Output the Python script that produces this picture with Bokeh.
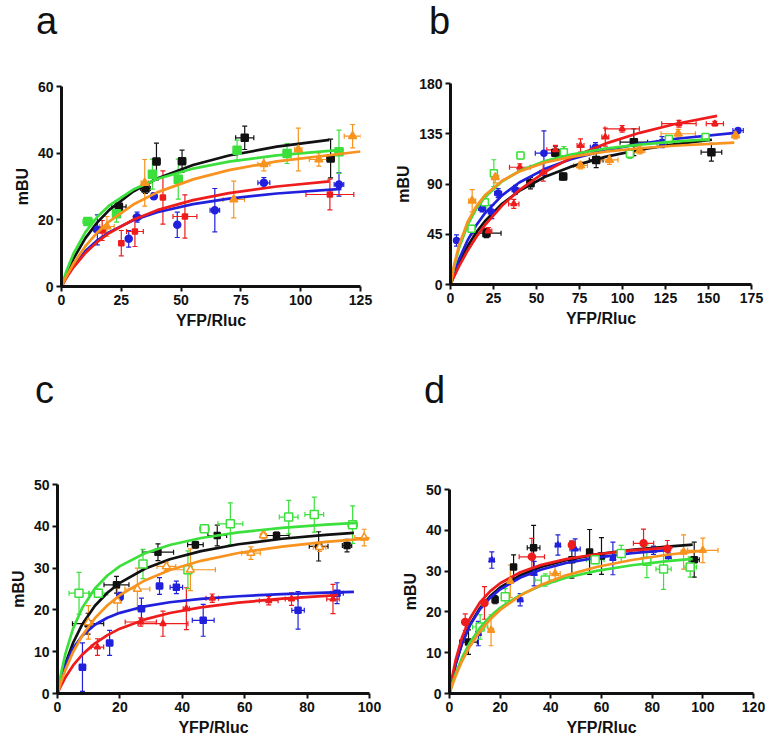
from bokeh.plotting import figure
from bokeh.layouts import column, row
from bokeh.models import Range1d, FixedTicker, Whisker, TeeHead, ColumnDataSource, Div
from bokeh.embed import file_html
from bokeh.resources import INLINE

# ---------------- colours ----------------
COLORS = {"black": "#111111", "green": "#3ce03c", "orange": "#f7931e",
          "red": "#ee1c1c", "blue": "#2020dd"}
ORDER = ["black", "blue", "red", "green", "orange"]

# ---------------- axis ticks ----------------
A_XTICKS = [0, 25, 50, 75, 100, 125]
A_YTICKS = [0, 20, 40, 60]
B_XTICKS = [0, 25, 50, 75, 100, 125, 150, 175]
B_YTICKS = [0, 45, 90, 135, 180]
C_XTICKS = [0, 20, 40, 60, 80, 100]
C_YTICKS = [0, 10, 20, 30, 40, 50]
D_XTICKS = [0, 20, 40, 60, 80, 100, 120]
D_YTICKS = [0, 10, 20, 30, 40, 50]
X_LABEL = "YFP/Rluc"
Y_LABEL = "mBU"
PANEL_LETTERS = ["a", "b", "c", "d"]

# ---------------- panel a ----------------
A_BLACK = dict(x=[24.0, 35.1, 39.7, 50.4, 76.6, 112.5], y=[23.9, 29.4, 37.5, 37.6, 44.6, 38.4],
               xerr=[3, 2, 1.5, 1.5, 3.8, 1.5], yerr=[1.2, 1.5, 5.5, 3.3, 3.5, 5.8])
A_GREEN = dict(x=[11, 23, 38, 48.8, 73.4, 94.3, 116], y=[19.5, 21.8, 33.7, 32.2, 40.9, 39.9, 40.4],
               xerr=[2, 1.5, 1, 1, 1.5, 1.5, 1.5], yerr=[0.8, 2.5, 4.5, 6, 3, 3, 6.5])
A_ORANGE = dict(x=[19, 34.8, 72, 84.6, 99, 107.6, 121.7], y=[18, 31.1, 26.1, 36.7, 41.1, 38.1, 45.1],
                xerr=[3, 1.5, 4.5, 2.5, 1.5, 4, 3.5], yerr=[3, 7, 5.5, 2, 6.4, 2, 3.5])
A_RED = dict(x=[17, 25, 30.7, 42.4, 51.6, 112.2], y=[16.8, 13, 16.5, 26.7, 21, 27.6],
             xerr=[1.5, 1, 3.5, 1, 5, 10], yerr=[3, 3.8, 4.5, 8, 6.5, 4.6])
A_BLUE = dict(x=[15, 28.1, 31.6, 38.6, 48.4, 64.1, 84.6, 116], y=[17, 14.3, 20.8, 27.1, 18.5, 22.9, 31.1, 30.6],
              xerr=[1.5, 1, 1.5, 1, 1, 2, 2.5, 2], yerr=[4.5, 2.5, 1.5, 1, 3.8, 6.5, 1.6, 3.5])
A_FIT_BLACK = dict(x=[0, 2, 5, 10, 15, 20, 30, 40, 55, 70, 90, 112],
                   y=[0, 3.68, 8.37, 14.52, 19.24, 22.97, 28.49, 32.39, 36.47, 39.29, 41.94, 43.98])
A_FIT_GREEN = dict(x=[0, 2, 5, 10, 15, 20, 30, 40, 55, 70, 90, 118],
                   y=[0, 4.49, 9.84, 16.31, 20.90, 24.33, 29.09, 32.24, 35.38, 37.47, 39.36, 41.08])
A_FIT_ORANGE = dict(x=[0, 2, 5, 10, 15, 20, 30, 40, 55, 70, 90, 125],
                    y=[0, 2.99, 6.86, 12.09, 16.21, 19.54, 24.59, 28.24, 32.14, 34.90, 37.52, 40.50])
A_FIT_RED = dict(x=[0, 2, 5, 10, 15, 20, 30, 40, 55, 70, 90, 112],
                 y=[0, 2.52, 5.75, 10.05, 13.39, 16.06, 20.05, 22.90, 25.91, 28.01, 30.00, 31.54])
A_FIT_BLUE = dict(x=[0, 2, 5, 10, 15, 20, 30, 40, 55, 70, 90, 117],
                  y=[0, 2.81, 6.27, 10.64, 13.85, 16.32, 19.85, 22.26, 24.71, 26.37, 27.90, 29.27])

# ---------------- panel b ----------------
B_BLACK = dict(x=[20.9, 46.5, 61, 65.5, 84.7, 106.6, 151.7], y=[46, 90.7, 118, 96.7, 111.6, 127.5, 118.5],
               xerr=[8.5, 2, 2, 2, 4, 8, 6], yerr=[4, 5, 6, 3, 7, 12, 8])
B_RED = dict(x=[22, 36.8, 40.3, 53.9, 61, 75.6, 90, 99.8, 132.8, 153.7],
             y=[48, 72.2, 105, 100.6, 120.6, 124.5, 132, 139.4, 144, 144],
             xerr=[2, 3, 6, 2, 5, 2, 2, 10, 10, 5], yerr=[3, 4, 3, 8, 4, 6, 8, 3, 3, 2])
B_BLUE = dict(x=[3.5, 18.4, 24, 27.7, 37.8, 54.3, 84.3, 123, 167.2],
              y=[39.4, 68, 65, 81.8, 84.8, 117.6, 123, 127.5, 137.9],
              xerr=[1, 2, 2, 2, 2, 5, 3, 3, 3], yerr=[5, 3, 6, 4, 4, 20, 4, 5, 2])
B_GREEN = dict(x=[12.2, 20, 25.2, 40.7, 65.9, 104.3, 127, 148.3], y=[50, 73.7, 99.7, 115.5, 118.5, 117, 130.4, 132],
               xerr=[1, 2, 1, 2, 2, 2, 2, 2], yerr=[3, 5, 12, 3, 5, 4, 3, 3])
B_ORANGE = dict(x=[12.6, 26, 75.6, 92.4, 110, 132.4, 165.7], y=[75, 96, 106.6, 111.6, 120, 135, 133.4],
                xerr=[2, 2, 4, 5, 3, 10, 2], yerr=[10, 5, 3, 4, 3, 4, 3])
B_FIT_BLACK = dict(x=[0, 2, 5, 10, 15, 20, 30, 40, 55, 70, 90, 110, 130, 152],
                   y=[0, 8.30, 19.26, 34.40, 46.62, 56.69, 72.31, 83.85, 96.46, 105.52, 114.27, 120.64, 125.48, 129.62])
B_FIT_RED = dict(x=[0, 2, 5, 10, 15, 20, 30, 40, 55, 70, 90, 110, 130, 155],
                 y=[0, 6.90, 16.43, 30.45, 42.56, 53.12, 70.65, 84.60, 100.91, 113.41, 126.13, 135.83, 143.47, 151.0])
B_FIT_BLUE = dict(x=[0, 2, 5, 10, 15, 20, 30, 40, 55, 70, 90, 110, 130, 167],
                  y=[0, 9.93, 22.71, 39.80, 53.13, 63.81, 79.87, 91.36, 103.56, 112.11, 120.20, 125.98, 130.32, 136.04])
B_FIT_GREEN = dict(x=[0, 2, 5, 10, 15, 20, 30, 40, 55, 70, 90, 110, 130, 150],
                   y=[0, 15.23, 32.89, 53.59, 67.83, 78.22, 92.36, 101.54, 110.53, 116.43, 121.71, 125.33, 127.97, 129.97])
B_FIT_ORANGE = dict(x=[0, 2, 5, 10, 15, 20, 30, 40, 55, 70, 90, 110, 130, 165],
                    y=[0, 16.65, 35.26, 56.18, 70.03, 79.88, 92.96, 101.25, 109.21, 114.35, 118.91, 122.01, 124.25, 126.97])

# ---------------- panel c ----------------
C_GREEN = dict(x=[6.9, 13.1, 27.4, 41.8, 47.1, 55.4, 74.1, 82.3, 94.6], y=[24, 24, 31, 29.6, 39.4, 40.6, 42.2, 42.8, 40.4],
               xerr=[3.2, 3, 1, 1, 1.5, 4, 3, 3, 1.5], yerr=[5, 1, 3.5, 4.5, 0.8, 5, 4, 4.2, 4.5])
C_BLACK = dict(x=[9.8, 18.9, 32.2, 44.2, 51.2, 70.2, 83.7, 92.8], y=[16.7, 26, 33.8, 35.6, 37.8, 37.8, 35.2, 35.4],
               xerr=[5, 4, 5, 2.5, 3, 4, 3, 1.5], yerr=[2.5, 2, 2, 0.8, 2.5, 0.8, 3.5, 1.5])
C_ORANGE = dict(x=[9.9, 19.2, 25.6, 34.9, 42.6, 62, 66, 84, 98.3], y=[17, 22.2, 25, 30.4, 29.6, 33.6, 37.8, 35, 37.3],
                xerr=[1.5, 1, 4, 3, 8, 3, 1, 2, 3], yerr=[4, 3, 5, 1, 5, 1.5, 0.8, 1, 2])
C_BLUE = dict(x=[8, 16.7, 20, 26.9, 32.7, 38.1, 46.7, 77.1, 89.6], y=[6.3, 12.1, 23.2, 20.3, 25.7, 25.4, 17.5, 19.9, 24],
              xerr=[1, 1, 1, 1, 1, 2, 3.5, 2, 2], yerr=[5.8, 3, 1, 2.5, 2, 1.5, 3.8, 4.5, 2.5])
C_RED = dict(x=[12.8, 26.7, 33.8, 41.3, 49.6, 67.7, 75, 88.3], y=[11.1, 17.1, 16.7, 20.3, 22.8, 22.2, 22.6, 22.6],
             xerr=[2, 5, 8, 1, 2, 3, 2, 2], yerr=[2, 1, 3, 5, 1, 1, 1.5, 3.5])
C_FIT_GREEN = dict(x=[0, 1, 2.5, 5, 8, 12, 16, 20, 28, 36, 46, 58, 72, 86, 96],
                   y=[0, 4.31, 9.41, 15.56, 20.60, 25.12, 28.22, 30.48, 33.54, 35.52, 37.20, 38.55, 39.63, 40.39, 40.80])
C_FIT_BLACK = dict(x=[0, 1, 2.5, 5, 8, 12, 16, 20, 28, 36, 46, 58, 72, 86, 95],
                   y=[0, 3.12, 7.05, 12.14, 16.65, 20.98, 24.11, 26.48, 29.84, 32.11, 34.07, 35.70, 37.02, 37.96, 38.44])
C_FIT_ORANGE = dict(x=[0, 1, 2.5, 5, 8, 12, 16, 20, 28, 36, 46, 58, 72, 86, 100],
                    y=[0, 2.42, 5.59, 9.91, 13.94, 18.02, 21.11, 23.52, 27.06, 29.54, 31.74, 33.61, 35.15, 36.27, 37.13])
C_FIT_BLUE = dict(x=[0, 1, 2.5, 5, 8, 12, 16, 20, 28, 36, 46, 58, 72, 86, 95],
                  y=[0, 3.25, 6.84, 10.84, 13.88, 16.45, 18.13, 19.30, 20.86, 21.83, 22.64, 23.27, 23.78, 24.12, 24.30])
C_FIT_RED = dict(x=[0, 1, 2.5, 5, 8, 12, 16, 20, 28, 36, 46, 58, 72, 86, 90],
                 y=[0, 1.66, 3.81, 6.70, 9.36, 12.00, 13.97, 15.51, 17.72, 19.26, 20.61, 21.75, 22.68, 23.36, 23.52])

# ---------------- panel d ----------------
D_BLACK = dict(x=[7.5, 18, 25.3, 33.2, 48.3, 55.3, 60, 96.6], y=[12.6, 23, 31, 35.7, 32.8, 34.7, 33.7, 32.8],
               xerr=[3.5, 1, 1, 2.5, 1, 1, 1, 2], yerr=[3, 1, 3, 5.5, 4.5, 5.5, 4.5, 4.3])
D_RED = dict(x=[6.2, 13.8, 32.5, 48.3, 76.6, 86], y=[17.5, 22.2, 33.5, 36.4, 36.8, 35.5],
             xerr=[1, 1, 5, 1, 4, 1], yerr=[2, 4, 4.5, 1, 3.5, 2])
D_BLUE = dict(x=[11.4, 16.7, 27.9, 33.4, 42.8, 49.6, 64.5, 80.5, 86.4], y=[14.7, 32.7, 23, 29.4, 36.4, 35.4, 33.1, 35.1, 33.5],
              xerr=[1, 1, 1, 1, 1, 2, 1, 1, 1], yerr=[3, 2, 1.5, 3, 2.5, 2.5, 4, 1, 1])
D_GREEN = dict(x=[12.1, 22, 37.8, 57.5, 67.8, 77.9, 84.5, 95], y=[16.3, 23.7, 27.8, 32.8, 34.3, 32.4, 30.5, 31],
               xerr=[3, 1, 4, 3.5, 1, 1, 3, 2.5], yerr=[3, 2, 1.5, 1, 2, 4, 5, 2.5])
D_ORANGE = dict(x=[16.4, 24, 41.7, 92.4, 100], y=[15.5, 27.5, 29.4, 34.7, 35.1],
                xerr=[1, 1, 2, 1, 6], yerr=[3.8, 4, 2, 4.2, 3])
D_FIT_BLACK = dict(x=[0, 1, 2.5, 5, 8, 12, 16, 20, 28, 36, 46, 58, 72, 86, 96],
                   y=[0, 3.29, 7.34, 12.44, 16.82, 20.92, 23.82, 25.99, 28.99, 30.99, 32.70, 34.10, 35.22, 36.02, 36.47])
D_FIT_RED = dict(x=[0, 1, 2.5, 5, 8, 12, 16, 20, 28, 36, 46, 58, 72, 88],
                 y=[0, 3.84, 8.39, 13.85, 18.31, 22.31, 25.04, 27.03, 29.73, 31.47, 32.94, 34.13, 35.07, 35.81])
D_FIT_BLUE = dict(x=[0, 1, 2.5, 5, 8, 12, 16, 20, 28, 36, 46, 58, 72, 87],
                  y=[0, 3.28, 7.30, 12.33, 16.63, 20.62, 23.44, 25.53, 28.43, 30.34, 31.98, 33.32, 34.40, 35.21])
D_FIT_GREEN = dict(x=[0, 1, 2.5, 5, 8, 12, 16, 20, 28, 36, 46, 58, 72, 86, 96],
                   y=[0, 2.16, 4.98, 8.83, 12.43, 16.08, 18.84, 21.00, 24.17, 26.39, 28.37, 30.04, 31.43, 32.44, 33.01])
D_FIT_ORANGE = dict(x=[0, 1, 2.5, 5, 8, 12, 16, 20, 28, 36, 46, 58, 72, 86, 100],
                    y=[0, 1.89, 4.43, 8.02, 11.53, 15.22, 18.13, 20.48, 24.04, 26.61, 28.96, 31.01, 32.73, 34.00, 34.98])

# marker: (shape, size, open?)
A_MARKERS = {"black": ("square", 7, False), "green": ("square", 8, False), "orange": ("triangle", 8, False),
             "red": ("square", 5, False), "blue": ("circle", 7, False)}
B_MARKERS = {"black": ("square", 7, False), "green": ("square", 7, True), "orange": ("triangle", 8, False),
             "red": ("triangle", 6, False), "blue": ("circle", 6, False)}
C_MARKERS = {"black": ("square", 6, False), "green": ("square", 8, True), "orange": ("triangle", 8, True),
             "red": ("triangle", 6, False), "blue": ("square", 6, False)}
D_MARKERS = {"black": ("square", 6, False), "green": ("square", 8, True), "orange": ("triangle", 7, False),
             "red": ("circle", 7, False), "blue": ("triangle", 6, False)}

TICK_FONT = "Liberation Sans"


def make_panel(xr, yr, xticks, yticks, series, fits, markers, geom):
    left, fw, right, top, fh, bottom = geom
    p = figure(output_backend="svg", toolbar_location=None,
               frame_width=fw, frame_height=fh,
               min_border_left=left, min_border_right=right,
               min_border_top=top, min_border_bottom=bottom,
               x_range=Range1d(*xr), y_range=Range1d(*yr))
    p.outline_line_color = None
    p.grid.visible = False
    p.background_fill_color = "white"
    p.border_fill_color = "white"
    p.xaxis.ticker = FixedTicker(ticks=xticks)
    p.yaxis.ticker = FixedTicker(ticks=yticks)
    for ax in (p.xaxis, p.yaxis):
        ax.axis_line_width = 3
        ax.axis_line_color = "#111111"
        ax.major_tick_line_width = 2
        ax.major_tick_line_color = "#111111"
        ax.major_tick_in = 0
        ax.major_tick_out = 5
        ax.minor_tick_line_color = None
        ax.major_label_text_font = TICK_FONT
        ax.major_label_text_font_style = "bold"
        ax.major_label_text_font_size = "14px"
        ax.major_label_text_color = "#111111"
        ax.major_label_standoff = 3
        ax.axis_label_text_font = TICK_FONT
        ax.axis_label_text_font_style = "bold"
        ax.axis_label_text_font_size = "16px"
        ax.axis_label_text_color = "#111111"
        ax.axis_label_standoff = 4
    p.xaxis.axis_label = X_LABEL
    p.yaxis.axis_label = Y_LABEL

    for name in ORDER:
        s = series[name]
        f = fits[name]
        col = COLORS[name]
        n = len(s["x"])
        ysrc = ColumnDataSource(dict(
            x=s["x"],
            lo=[s["y"][i] - s["yerr"][i] for i in range(n)],
            hi=[s["y"][i] + s["yerr"][i] for i in range(n)]))
        xsrc = ColumnDataSource(dict(
            y=s["y"],
            lo=[s["x"][i] - s["xerr"][i] for i in range(n)],
            hi=[s["x"][i] + s["xerr"][i] for i in range(n)]))
        for src, base, dim in ((ysrc, "x", "height"), (xsrc, "y", "width")):
            p.add_layout(Whisker(source=src, base=base, lower="lo", upper="hi", dimension=dim,
                                 line_color=col, line_width=1.2,
                                 lower_head=TeeHead(size=5, line_color=col, line_width=1.2),
                                 upper_head=TeeHead(size=5, line_color=col, line_width=1.2)))
        shape, size, hollow = markers[name]
        p.scatter(s["x"], s["y"], marker=shape, size=size, line_color=col, line_width=1.5,
                  fill_color="white" if hollow else col)
        p.line(f["x"], f["y"], line_color=col, line_width=2.7)
    return p


def letter_div(letter, width, pad_left):
    return Div(text=letter, width=width, height=44, margin=0,
               styles={"font-family": "Liberation Sans", "font-size": "38px",
                       "line-height": "normal", "padding-left": f"{pad_left}px",
                       "color": "#111111"})


# geom = (border_left, frame_w, border_right, border_top, frame_h, border_bottom)
pa = make_panel((0, 125), (0, 60), A_XTICKS, A_YTICKS,
                dict(black=A_BLACK, green=A_GREEN, orange=A_ORANGE, red=A_RED, blue=A_BLUE),
                dict(black=A_FIT_BLACK, green=A_FIT_GREEN, orange=A_FIT_ORANGE, red=A_FIT_RED, blue=A_FIT_BLUE),
                A_MARKERS, (61, 299, 32, 42, 200, 83))
pb = make_panel((0, 175), (0, 180), B_XTICKS, B_YTICKS,
                dict(black=B_BLACK, green=B_GREEN, orange=B_ORANGE, red=B_RED, blue=B_BLUE),
                dict(black=B_FIT_BLACK, green=B_FIT_GREEN, orange=B_FIT_ORANGE, red=B_FIT_RED, blue=B_FIT_BLUE),
                B_MARKERS, (56, 301, 16, 39, 201, 85))
pc = make_panel((0, 100), (0, 50), C_XTICKS, C_YTICKS,
                dict(black=C_BLACK, green=C_GREEN, orange=C_ORANGE, red=C_RED, blue=C_BLUE),
                dict(black=C_FIT_BLACK, green=C_FIT_GREEN, orange=C_FIT_ORANGE, red=C_FIT_RED, blue=C_FIT_BLUE),
                C_MARKERS, (57, 312, 23, 71, 209, 50))
pd_ = make_panel((0, 120), (0, 50), D_XTICKS, D_YTICKS,
                 dict(black=D_BLACK, green=D_GREEN, orange=D_ORANGE, red=D_RED, blue=D_BLUE),
                 dict(black=D_FIT_BLACK, green=D_FIT_GREEN, orange=D_FIT_ORANGE, red=D_FIT_RED, blue=D_FIT_BLUE),
                 D_MARKERS, (57, 304, 12, 76, 204, 50))

layout = column(
    row(column(letter_div(PANEL_LETTERS[0], 392, 36), pa, spacing=0),
        column(letter_div(PANEL_LETTERS[1], 373, 37), pb, spacing=0), spacing=0),
    row(column(letter_div(PANEL_LETTERS[2], 392, 35), pc, spacing=0),
        column(letter_div(PANEL_LETTERS[3], 373, 32), pd_, spacing=0), spacing=0),
    spacing=0)

with open("out.html", "w") as fh:
    fh.write(file_html(layout, INLINE))
